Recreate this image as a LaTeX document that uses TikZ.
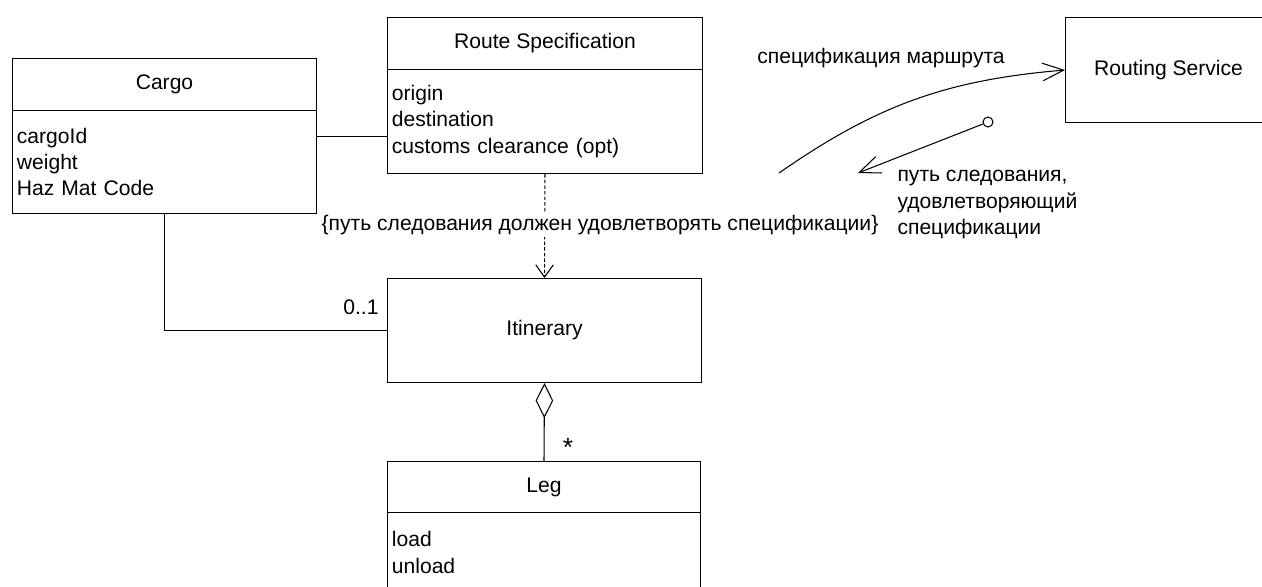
\documentclass[tikz,border=0pt]{standalone}
\usepackage{fontspec}
\setmainfont{Liberation Sans}
\usepackage{tikz}
\usetikzlibrary{arrows.meta, positioning}

\begin{document}
\begin{tikzpicture}[x = 0.02cm, y = -0.02cm, line width = .6pt,
  every node/.style = {font = \fontsize{12}{15}\selectfont},
  box/.style = {draw, anchor = north west, inner sep = 0pt},
  attrs/.style = {box, align = left, inner xsep = 2.5pt},
  barb/.style = {-{Straight Barb[length = 12pt, width = 10pt]}}]
 \useasboundingbox (0, 0) rectangle (1262, 586);
 \clip (0, 0) rectangle (1262, 586);
 \node[box, minimum width = 6.08cm, minimum height = 1.04cm] (cargo) at (12, 58) {Cargo};
 \node[attrs, text width = 5.904cm, minimum height = 2.06cm] (cargoattr) at (12, 110) {cargoId\\weight\\Haz Mat Code};
 \node[box, minimum width = 6.3cm, minimum height = 1.04cm] (spec) at (387, 17) {Route Specification};
 \node[attrs, text width = 6.124cm, minimum height = 2.08cm] (specattr) at (387, 69) {origin\\destination\\customs clearance (opt)};
 \node[box, minimum width = 6.28cm, minimum height = 2.08cm] (itin) at (387, 278) {Itinerary};
 \node[box, minimum width = 6.26cm, minimum height = 1.02cm] (leg) at (387, 461) {Leg};
 \node[attrs, text width = 6.084cm, minimum height = 1.6cm] (legattr) at (387, 512) {load\\unload};
 \node[box, minimum width = 4.12cm, minimum height = 2.1cm] (routing) at (1065, 17) {Routing Service};

 \coordinate (joint) at ([yshift = -0.3cm]specattr.west);
 \draw (joint) -- (joint -| cargoattr.east);
 \draw (cargoattr.south) |- (itin.west) node[pos = 1, anchor = south east, inner sep = 0pt, xshift = -4.5pt, yshift = 8.5pt] {0..1};
 \draw[dash pattern = on 2pt off 1.2pt, -{Straight Barb[length = 7pt, width = 10pt]}] (specattr.south) -- (itin.north);
 \node[fill = white, inner sep = 1pt] (rule) at (600, 225) {\{путь следования должен удовлетворять спецификации\}};
 \draw[{Diamond[open, length = 20pt, width = 10pt]}-] (itin.south) -- (leg.north) node[pos = .82, right = 7pt, font = \fontsize{15}{15}\selectfont] {*};

 \coordinate (specstart) at (779, 173);
 \draw[barb] (specstart) to[bend left = 15] (routing.west);
 \node (specmsg) at (881, 58) {спецификация маршрута};
 \node[circle, draw, inner sep = 0pt, minimum size = 0.2cm] (retsrc) at (988, 122) {};
 \coordinate (retend) at (858, 173);
 \draw[barb] (retsrc) -- (retend);
 \node[anchor = north west, align = left, inner sep = 0pt] (retmsg) at (897, 170) {путь следования,\\удовлетворяющий\\спецификации};
\end{tikzpicture}
\end{document}
